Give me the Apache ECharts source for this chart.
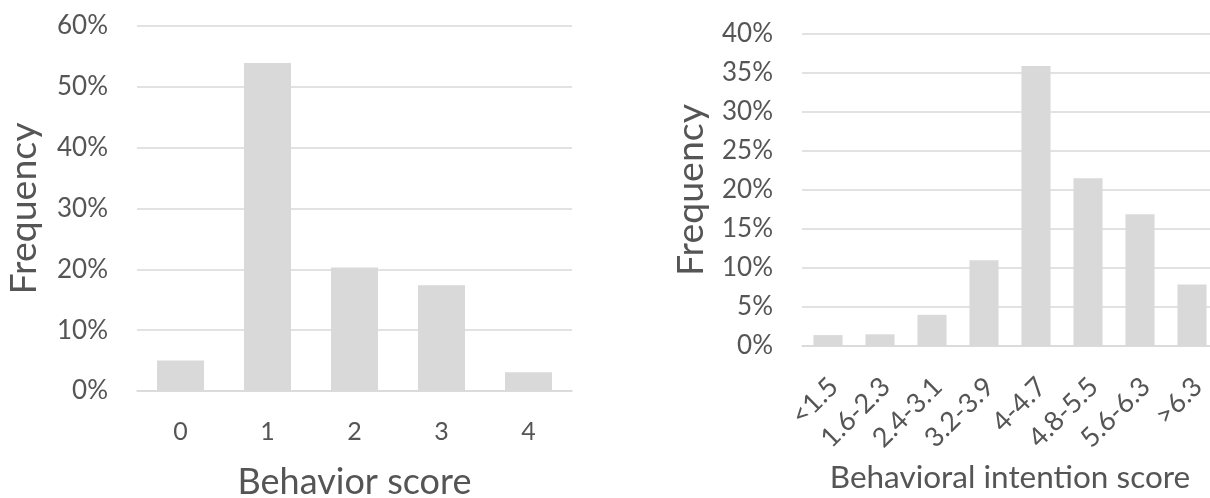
<!DOCTYPE html>
<html>
<head>
<meta charset="utf-8">
<script src="https://cdn.jsdelivr.net/npm/echarts@6/dist/echarts.min.js"></script>
<style>
html,body{margin:0;padding:0;background:#fff;}
#chart{width:1210px;height:498px;}
</style>
</head>
<body>
<div id="chart"></div>
<script>
// Left chart: behavior score distribution (%)
const behaviorCategories = ['0', '1', '2', '3', '4'];
const behaviorValues = [5.0, 53.9, 20.3, 17.4, 3.1];
// Right chart: behavioral intention score distribution (%)
const intentionCategories = ['<1.5', '1.6-2.3', '2.4-3.1', '3.2-3.9', '4-4.7', '4.8-5.5', '5.6-6.3', '>6.3'];
const intentionValues = [1.4, 1.5, 4.0, 11.0, 35.9, 21.5, 16.9, 7.9];

const FONT = 'Lato';
const TXT = '#555555';
const GRID = '#d9d9d9';
const BAR = '#d9d9d9';

const chart = echarts.init(document.getElementById('chart'), null, {renderer: 'canvas'});
chart.setOption({
  animation: false,
  backgroundColor: '#ffffff',
  textStyle: {fontFamily: FONT, color: TXT},
  grid: [
    {left: 137, right: 638, top: 26, bottom: 107, containLabel: false, outerBoundsMode: 'none'},
    {left: 802, right: -8, top: 34, bottom: 152, containLabel: false, outerBoundsMode: 'none'}
  ],
  xAxis: [
    {
      gridIndex: 0, type: 'category', data: behaviorCategories,
      axisLine: {show: true, lineStyle: {color: GRID, width: 1.5}},
      axisTick: {show: false},
      axisLabel: {color: TXT, fontSize: 25, fontFamily: FONT, margin: 28},
      name: 'Behavior score', nameLocation: 'middle', nameGap: 73,
      nameTextStyle: {color: TXT, fontSize: 36, fontFamily: FONT, verticalAlign: 'top'}
    },
    {
      gridIndex: 1, type: 'category', data: intentionCategories,
      axisLine: {show: true, lineStyle: {color: GRID, width: 1.5}},
      axisTick: {show: false},
      axisLabel: {color: TXT, fontSize: 27, fontFamily: FONT, rotate: 45, margin: 42, interval: 0,
                  padding: [0, -8, 0, 0]},
      name: 'Behavioral intention score', nameLocation: 'middle', nameGap: 116,
      nameTextStyle: {color: TXT, fontSize: 31.5, fontFamily: FONT, verticalAlign: 'top'}
    }
  ],
  yAxis: [
    {
      gridIndex: 0, type: 'value', min: 0, max: 60, interval: 10,
      axisLine: {show: false}, axisTick: {show: false},
      splitLine: {lineStyle: {color: GRID, width: 1.5}},
      axisLabel: {color: TXT, fontSize: 26, fontFamily: FONT, margin: 29, formatter: '{value}%'},
      name: 'Frequency', nameLocation: 'middle', nameGap: 94,
      nameTextStyle: {color: TXT, fontSize: 37.5, fontFamily: FONT}
    },
    {
      gridIndex: 1, type: 'value', min: 0, max: 40, interval: 5,
      axisLine: {show: false}, axisTick: {show: false},
      splitLine: {lineStyle: {color: GRID, width: 1.5}},
      axisLabel: {color: TXT, fontSize: 26, fontFamily: FONT, margin: 29, formatter: '{value}%'},
      name: 'Frequency', nameLocation: 'middle', nameGap: 92,
      nameTextStyle: {color: TXT, fontSize: 37.5, fontFamily: FONT}
    }
  ],
  series: [
    {
      type: 'bar', xAxisIndex: 0, yAxisIndex: 0, data: behaviorValues,
      barWidth: '54%', itemStyle: {color: BAR}
    },
    {
      type: 'bar', xAxisIndex: 1, yAxisIndex: 1, data: intentionValues,
      barWidth: '56%', itemStyle: {color: BAR}
    }
  ]
});
</script>
</body>
</html>
